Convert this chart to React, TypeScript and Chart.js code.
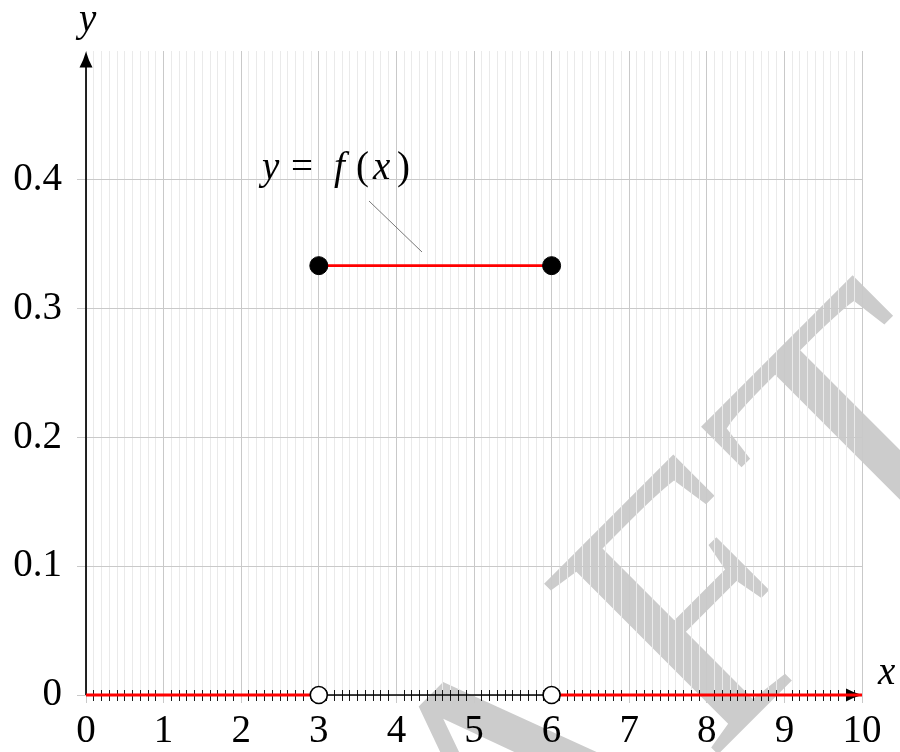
import React, { useEffect, useRef } from 'react';
import { Chart, registerables } from 'chart.js';

Chart.register(...registerables);

// Piecewise density: constant value on each interval between consecutive breakpoints
const breakpoints = [0, 3, 6, 10];
const densities = [0, 1 / 3, 0];

// Endpoints that belong to the graph (filled) and those that do not (hollow)
const closedX = [3, 6];
const closedY = [1 / 3, 1 / 3];
const openX = [3, 6];
const openY = [0, 0];

// Axes
const xRange = [0, 10];
const yRange = [0, 0.5];
const xTicks = [0, 1, 2, 3, 4, 5, 6, 7, 8, 9, 10];
const yTicks = [0, 0.1, 0.2, 0.3, 0.4];
const yTickLabels = ['0', '0.1', '0.2', '0.3', '0.4'];
const minorStep = 0.1;

const curveLabel = ['y', ' = ', 'f', '(', 'x', ')'];
const watermarkWord = 'DRAFT';

const SERIF = '"Liberation Serif", "Times New Roman", serif';
const RED = '#ff0000';
const MAJOR = '#c9c9c9';
const MINOR = '#eaeaea';

function alignPx(p: number, w: number) {
  const h = w / 2;
  return Math.round(p - h) + h;
}

const watermarkPlugin = {
  id: 'watermark',
  beforeDraw(chart: any) {
    const ctx = chart.ctx as CanvasRenderingContext2D;
    ctx.save();
    ctx.rotate(-Math.PI / 4);
    ctx.fillStyle = '#cccccc';
    ctx.font = `372px ${SERIF}`;
    ctx.textBaseline = 'alphabetic';
    ctx.textAlign = 'left';
    const capTop = 797;
    const mT = ctx.measureText('T');
    const base = capTop + mT.actualBoundingBoxAscent;
    const mA = ctx.measureText('A');
    const mF = ctx.measureText('F');
    const xA = -184 - (mA.actualBoundingBoxRight - mA.actualBoundingBoxLeft) / 2;
    const xF = -33 + mF.actualBoundingBoxLeft;
    const xT = 193 + mT.actualBoundingBoxLeft;
    const xR = xA - ctx.measureText('R').width;
    const xD = xR - ctx.measureText('D').width;
    const xs = [xD, xR, xA, xF, xT];
    watermarkWord.split('').forEach((ch, i) => ctx.fillText(ch, xs[i], base));
    ctx.restore();

    // fine vertical grid every 0.1 along x
    const { top, bottom } = chart.chartArea;
    const xs2 = chart.scales.x;
    ctx.save();
    ctx.strokeStyle = MINOR;
    ctx.lineWidth = 1;
    ctx.beginPath();
    const n = Math.round((xRange[1] - xRange[0]) / minorStep);
    for (let i = 1; i < n; i++) {
      if (i % 10 === 0) continue;
      const px = alignPx(xs2.getPixelForValue(xRange[0] + i * minorStep), 1);
      ctx.moveTo(px, top);
      ctx.lineTo(px, bottom);
    }
    ctx.stroke();
    ctx.restore();
  },
};

const axesPlugin = {
  id: 'arrowAxes',
  beforeDatasetsDraw(chart: any) {
    const ctx = chart.ctx as CanvasRenderingContext2D;
    const xs = chart.scales.x;
    const ys = chart.scales.y;
    const x0 = xs.getPixelForValue(0);
    const y0 = ys.getPixelForValue(0);
    const xEnd = xs.getPixelForValue(xRange[1]);
    const yEnd = ys.getPixelForValue(yRange[1]);
    ctx.save();
    ctx.strokeStyle = '#000';
    ctx.fillStyle = '#000';

    // small ticks every 0.1 on the x axis
    ctx.lineWidth = 0.9;
    ctx.beginPath();
    const n = Math.round((xRange[1] - xRange[0]) / minorStep);
    for (let i = 1; i < n; i++) {
      if (i % 10 === 0) continue;
      const px = alignPx(xs.getPixelForValue(xRange[0] + i * minorStep), 1);
      ctx.moveTo(px, y0 - 5);
      ctx.lineTo(px, y0 + 6);
    }
    ctx.stroke();

    ctx.lineWidth = 1.7;
    // x axis
    ctx.beginPath();
    ctx.moveTo(x0, y0);
    ctx.lineTo(xEnd - 8, y0);
    ctx.stroke();
    // y axis
    ctx.beginPath();
    ctx.moveTo(x0, y0);
    ctx.lineTo(x0, yEnd + 8);
    ctx.stroke();

    // arrow heads (slightly concave sides, flat back)
    const head = (tx: number, ty: number, dx: number, dy: number) => {
      const len = 16, half = 6.5;
      const bx = tx - dx * len, by = ty - dy * len;
      const nx = -dy, ny = dx;
      const mx = tx - dx * len * 0.5, my = ty - dy * len * 0.5;
      ctx.beginPath();
      ctx.moveTo(tx, ty);
      ctx.quadraticCurveTo(mx + nx * half * 0.35, my + ny * half * 0.35, bx + nx * half, by + ny * half);
      ctx.lineTo(bx - nx * half, by - ny * half);
      ctx.quadraticCurveTo(mx - nx * half * 0.35, my - ny * half * 0.35, tx, ty);
      ctx.closePath();
      ctx.fill();
    };
    head(xEnd, y0, 1, 0);
    head(x0, yEnd + 0.5, 0, -1);
    ctx.restore();
  },
  afterDraw(chart: any) {
    const ctx = chart.ctx as CanvasRenderingContext2D;
    const xs = chart.scales.x;
    ctx.save();
    ctx.fillStyle = '#000';
    ctx.textBaseline = 'alphabetic';
    ctx.textAlign = 'left';

    // axis names
    ctx.font = `italic 39px ${SERIF}`;
    const my = ctx.measureText('y');
    ctx.fillText('y', xs.getPixelForValue(0) - (my.actualBoundingBoxRight - my.actualBoundingBoxLeft) / 2, 31);
    ctx.fillText('x', 877 + ctx.measureText('x').actualBoundingBoxLeft, 684);

    // curve label with leader line
    const lefts = [258, 292, 334, 357, 372, 398];
    curveLabel.forEach((t, i) => {
      const italic = i % 2 === 0;
      ctx.font = `${italic ? 'italic ' : ''}39px ${SERIF}`;
      const txt = t.trim();
      const m = ctx.measureText(txt);
      ctx.fillText(txt, lefts[i] + m.actualBoundingBoxLeft, 179);
    });
    ctx.strokeStyle = '#555';
    ctx.lineWidth = 0.8;
    ctx.beginPath();
    ctx.moveTo(369, 201);
    ctx.lineTo(422, 252);
    ctx.stroke();
    ctx.restore();
  },
};

export default function App() {
  const ref = useRef<HTMLCanvasElement | null>(null);

  useEffect(() => {
    if (!ref.current) return;

    const segments = densities.map((d, i) => ({
      type: 'line' as const,
      data: [
        { x: breakpoints[i], y: d },
        { x: breakpoints[i + 1], y: d },
      ],
      borderColor: RED,
      borderWidth: 2.8,
      pointRadius: 0,
      fill: false,
      clip: false as any,
      order: 2,
    }));

    const chart = new Chart(ref.current, {
      type: 'line',
      data: {
        datasets: [
          {
            type: 'line',
            data: openX.map((x, i) => ({ x, y: openY[i] })),
            showLine: false,
            pointRadius: 8.5,
            pointBackgroundColor: '#ffffff',
            pointBorderColor: '#000000',
            pointBorderWidth: 1.6,
            clip: false as any,
            order: 0,
          },
          {
            type: 'line',
            data: closedX.map((x, i) => ({ x, y: closedY[i] })),
            showLine: false,
            pointRadius: 9,
            pointBackgroundColor: '#000000',
            pointBorderColor: '#000000',
            pointBorderWidth: 1,
            clip: false as any,
            order: 0,
          },
          ...segments,
        ] as any,
      },
      options: {
        animation: false,
        responsive: false,
        devicePixelRatio: 1,
        events: [],
        layout: { padding: { left: 0, top: 51, right: 38, bottom: 0 } },
        plugins: { legend: { display: false }, tooltip: { enabled: false } },
        scales: {
          x: {
            type: 'linear',
            min: xRange[0],
            max: xRange[1],
            afterBuildTicks: (s: any) => {
              s.ticks = xTicks.map((v) => ({ value: v }));
            },
            afterFit: (s: any) => {
              s.height = 57;
            },
            border: { display: false },
            grid: { color: MAJOR, tickColor: MAJOR, lineWidth: 1, tickLength: 8, drawTicks: true },
            ticks: {
              color: '#000',
              font: { family: SERIF, size: 39 },
              padding: 5,
              maxRotation: 0,
              autoSkip: false,
              callback: (v: any) => String(v),
            },
          },
          y: {
            type: 'linear',
            min: yRange[0],
            max: yRange[1],
            afterBuildTicks: (s: any) => {
              s.ticks = yTicks.map((v) => ({ value: v }));
            },
            afterFit: (s: any) => {
              s.width = 86;
            },
            border: { display: false },
            grid: { color: MAJOR, tickColor: MAJOR, lineWidth: 1, tickLength: 9, drawTicks: true },
            ticks: {
              color: '#000',
              font: { family: SERIF, size: 39 },
              padding: 15,
              autoSkip: false,
              callback: (v: any) => {
                const i = yTicks.findIndex((t) => Math.abs(t - v) < 1e-9);
                return i >= 0 ? yTickLabels[i] : '';
              },
            },
          },
        },
      },
      plugins: [watermarkPlugin, axesPlugin],
    });

    return () => chart.destroy();
  }, []);

  return (
    <div style={{ position: 'fixed', left: 0, top: 0, width: 900, height: 752, background: '#fff' }}>
      <canvas ref={ref} width={900} height={752} style={{ display: 'block', width: 900, height: 752 }} />
    </div>
  );
}
